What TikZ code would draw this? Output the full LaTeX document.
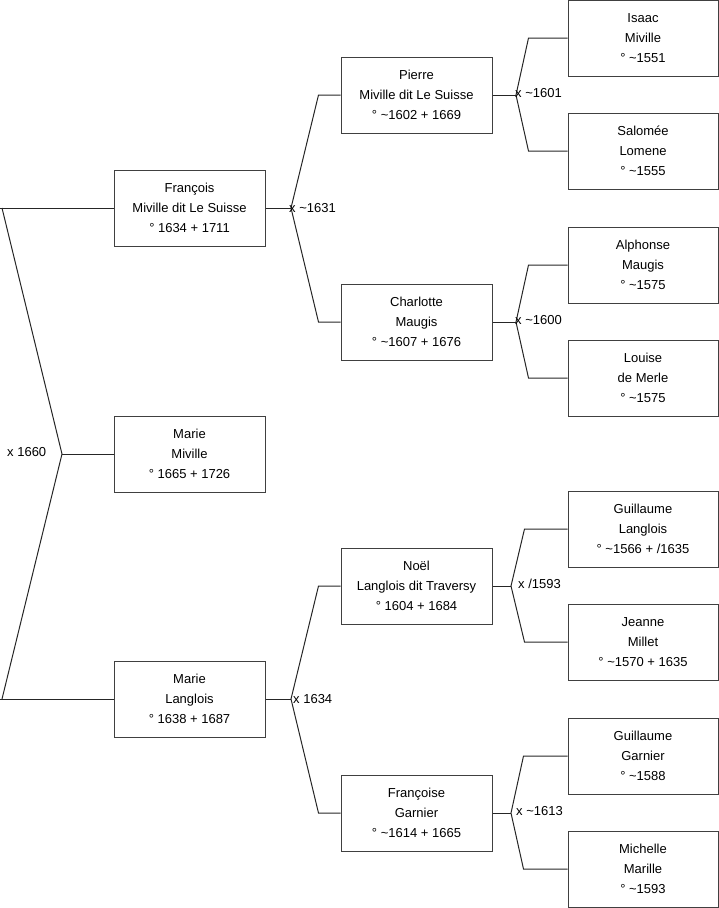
\documentclass[tikz,border=0pt]{standalone}
\usepackage{fontspec}
\setmainfont{Liberation Sans}
\newcommand\Tld{\textasciitilde}
\begin{document}
\begin{tikzpicture}[x=1pt,y=-1pt,
  person/.style={draw=black!75, line width=1pt, minimum height=76pt, inner sep=0pt,
    align=center, font=\fontsize{13}{20}\selectfont},
  gen1/.style={person, minimum width=151pt},
  gen2/.style={person, minimum width=151pt},
  gen3/.style={person, minimum width=150pt},
  link/.style={draw=black!85, line width=1pt},
  lbl/.style={anchor=west, inner sep=0pt, font=\fontsize{13}{16}\selectfont}]
\useasboundingbox (0,0) rectangle (719,908);
% generation 1
\node[gen1] (F) at (189.5,208) {François\\Miville dit Le Suisse\\° 1634 + 1711};
\node[gen1] (R) at (189.5,454) {Marie\\Miville\\° 1665 + 1726};
\node[gen1] (L) at (189.5,699) {Marie\\Langlois\\° 1638 + 1687};
% generation 2
\node[gen2] (P) at (416.5,95) {Pierre\\Miville dit Le Suisse\\° \Tld1602 + 1669};
\node[gen2] (C) at (416.5,322) {Charlotte\\Maugis\\° \Tld1607 + 1676};
\node[gen2] (N) at (416.5,586) {Noël\\Langlois dit Traversy\\° 1604 + 1684};
\node[gen2] (G) at (416.5,813) {Françoise\\Garnier\\° \Tld1614 + 1665};
% generation 3
\node[gen3] (I) at (643,38) {Isaac\\Miville\\° \Tld1551};
\node[gen3] (S) at (643,151) {Salomée\\Lomene\\° \Tld1555};
\node[gen3] (A) at (643,265) {Alphonse\\Maugis\\° \Tld1575};
\node[gen3] (O) at (643,378) {Louise\\de Merle\\° \Tld1575};
\node[gen3] (GL) at (643,529) {Guillaume\\Langlois\\° \Tld1566 + /1635};
\node[gen3] (J) at (643,642) {Jeanne\\Millet\\° \Tld1570 + 1635};
\node[gen3] (GG) at (643,756) {Guillaume\\Garnier\\° \Tld1588};
\node[gen3] (Mi) at (643,869) {Michelle\\Marille\\° \Tld1593};
% root connectors
\coordinate (fl) at (0,208);
\coordinate (fd) at (2,208);
\coordinate (ll) at (0,699);
\coordinate (ld) at (2,699);
\coordinate (rj) at (62,454);
\draw[link] (fl) -- (F.west);
\draw[link] (ll) -- (L.west);
\draw[link] (fd) -- (rj) -- (ld);
\draw[link] (rj) -- (R.west);
\node[lbl] (lR) at (7,452) {x 1660};
% François
\coordinate (jF) at (291,208);
\draw[link] (F.east) -- (jF);
\draw[link] (P.west) -- ++(-22,0) -- (jF) -- ([xshift=-22pt]C.west) -- (C.west);
\node[lbl] (lF) at (289,208) {x \Tld1631};
% Marie Langlois
\coordinate (jL) at (291,699);
\draw[link] (L.east) -- (jL);
\draw[link] (N.west) -- ++(-22,0) -- (jL) -- ([xshift=-22pt]G.west) -- (G.west);
\node[lbl] (lL) at (293,699) {x 1634};
% Pierre
\coordinate (jP) at (516,95);
\draw[link] (P.east) -- (jP);
\draw[link] (I.west) -- ++(-39,0) -- (jP) -- ([xshift=-39pt]S.west) -- (S.west);
\node[lbl] (lP) at (515,93) {x \Tld1601};
% Charlotte
\coordinate (jC) at (516,322);
\draw[link] (C.east) -- (jC);
\draw[link] (A.west) -- ++(-39,0) -- (jC) -- ([xshift=-39pt]O.west) -- (O.west);
\node[lbl] (lC) at (515,320) {x \Tld1600};
% Noël
\coordinate (jN) at (511,586);
\draw[link] (N.east) -- (jN);
\draw[link] (GL.west) -- ++(-43,0) -- (jN) -- ([xshift=-43pt]J.west) -- (J.west);
\node[lbl] (lN) at (518,584) {x /1593};
% Françoise
\coordinate (jG) at (511,813);
\draw[link] (G.east) -- (jG);
\draw[link] (GG.west) -- ++(-44,0) -- (jG) -- ([xshift=-44pt]Mi.west) -- (Mi.west);
\node[lbl] (lG) at (516,811) {x \Tld1613};
\end{tikzpicture}
\end{document}
